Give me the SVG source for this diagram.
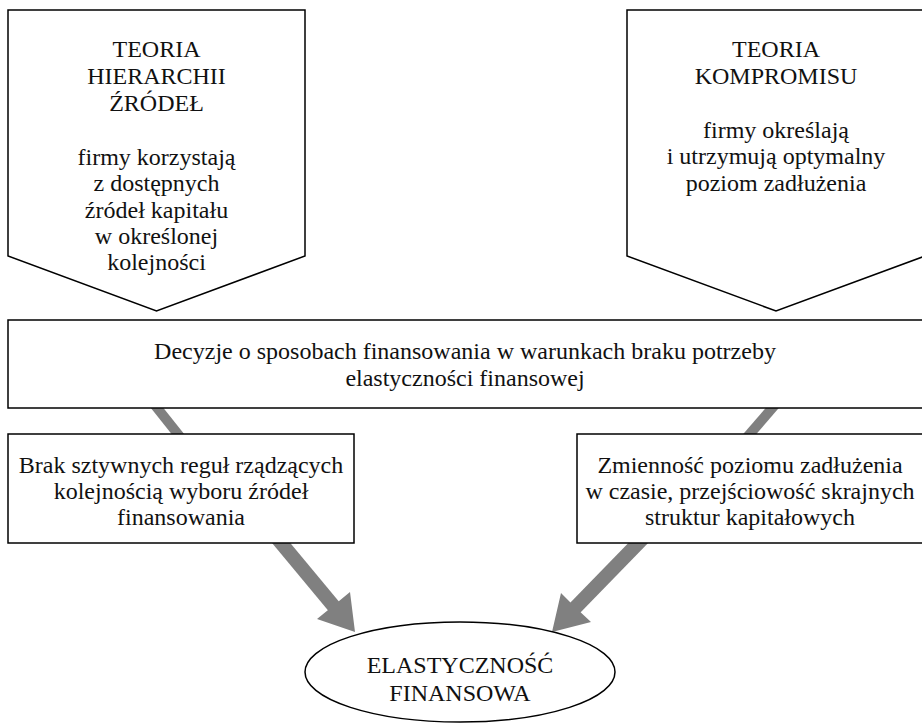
<svg xmlns="http://www.w3.org/2000/svg" width="922" height="728" viewBox="0 0 922 728">
  <style>
    .shape { fill: #ffffff; stroke: #000000; stroke-width: 1.5; }
    .label { font-family: "Liberation Serif", "Times New Roman", serif; font-size: 24px; fill: #111111; text-anchor: middle; }
    .link { stroke: #808080; fill: none; }
    .thin { stroke-width: 10; }
    .thick { stroke-width: 14; }
    .head { fill: #808080; }
  </style>

  <rect width="922" height="728" fill="#ffffff"/>

  <!-- connectors (drawn first so the boxes hide their ends) -->
  <g id="connectors">
    <line class="link thin" x1="150" y1="399" x2="185" y2="443"/>
    <line class="link thin" x1="780" y1="399" x2="742" y2="443"/>
    <line class="link thick" x1="272" y1="532" x2="336" y2="609"/>
    <polygon class="head" points="355,632 317,619 333,606 350,592"/>
    <line class="link thick" x1="647" y1="534" x2="574" y2="609"/>
    <polygon class="head" points="552,632 561,593 576,608 591,622"/>
  </g>

  <!-- pecking order theory -->
  <g id="hierarchy">
    <polygon class="shape" points="8,10 305,10 305,256 156.5,311 8,256"/>
    <text class="label" x="156.5" y="57">TEORIA</text>
    <text class="label" x="156.5" y="84">HIERARCHII</text>
    <text class="label" x="156.5" y="111">ŹRÓDEŁ</text>
    <text class="label" x="156.5" y="165">firmy korzystają</text>
    <text class="label" x="156.5" y="191">z dostępnych</text>
    <text class="label" x="156.5" y="218">źródeł kapitału</text>
    <text class="label" x="156.5" y="244">w określonej</text>
    <text class="label" x="156.5" y="270">kolejności</text>
  </g>

  <!-- trade-off theory -->
  <g id="tradeoff">
    <polygon class="shape" points="627,10 925,10 925,256 776,311 627,256"/>
    <text class="label" x="776" y="57">TEORIA</text>
    <text class="label" x="776" y="84">KOMPROMISU</text>
    <text class="label" x="776" y="138">firmy określają</text>
    <text class="label" x="776" y="164">i utrzymują optymalny</text>
    <text class="label" x="776" y="191">poziom zadłużenia</text>
  </g>

  <!-- financing decisions -->
  <g id="decisions">
    <rect class="shape" x="8" y="320" width="916" height="88"/>
    <text class="label" x="465" y="359">Decyzje o sposobach finansowania w warunkach braku potrzeby</text>
    <text class="label" x="465" y="386">elastyczności finansowej</text>
  </g>

  <!-- no rigid rules -->
  <g id="no-rules">
    <rect class="shape" x="8" y="434" width="346" height="109"/>
    <text class="label" x="181" y="473">Brak sztywnych reguł rządzących</text>
    <text class="label" x="181" y="499">kolejnością wyboru źródeł</text>
    <text class="label" x="181" y="525">finansowania</text>
  </g>

  <!-- debt level variability -->
  <g id="variability">
    <rect class="shape" x="577" y="434" width="347" height="109"/>
    <text class="label" x="750" y="473">Zmienność poziomu zadłużenia</text>
    <text class="label" x="750" y="499">w czasie, przejściowość skrajnych</text>
    <text class="label" x="750" y="525">struktur kapitałowych</text>
  </g>

  <!-- financial flexibility -->
  <g id="flexibility">
    <ellipse class="shape" cx="460" cy="672" rx="155" ry="50"/>
    <text class="label" x="460" y="673">ELASTYCZNOŚĆ</text>
    <text class="label" x="460" y="701">FINANSOWA</text>
  </g>
</svg>
